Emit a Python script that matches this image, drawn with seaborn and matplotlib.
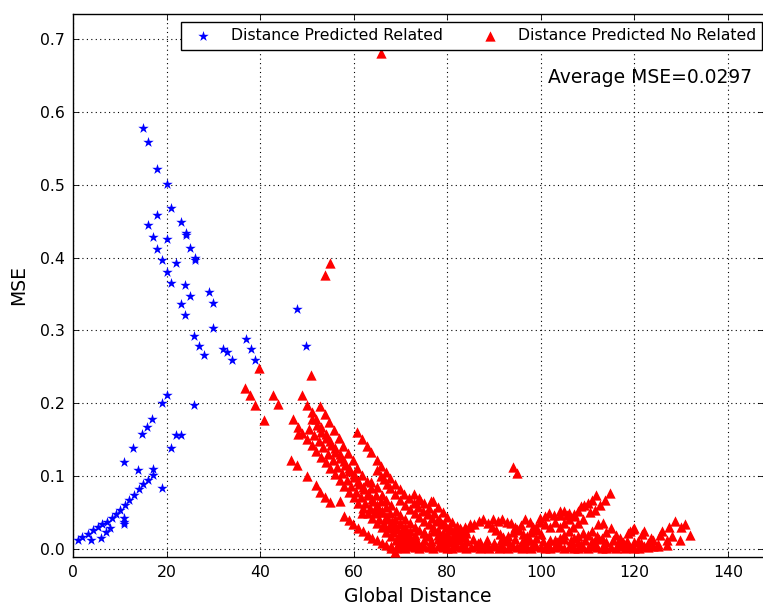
import numpy as np
import pandas as pd
import matplotlib
matplotlib.use("Agg")
import matplotlib.pyplot as plt
import seaborn as sns

# ---------------- data ----------------
blue_x = [1, 2, 3.3, 4.3, 5.4, 6.3, 7.3, 8.3, 9.2, 10, 11.1, 12, 13, 14.1, 15, 16.1, 17, 17,
          3.8, 5.9, 7.1, 7.9, 11, 11, 11,
          10.9, 12.9, 14, 14.8, 15.9, 16.8, 19, 20, 19, 20.9, 22, 23, 25.9,
          14.9, 16.1, 18, 20, 20.9, 18, 16.1, 23, 24.1, 24.1, 17, 20, 18, 25, 26.1, 26.1,
          19.1, 22, 20, 20.9, 23.9, 25, 29.1, 30, 23,
          23.9, 25.9, 27, 28, 30, 32, 33, 33.9, 37, 38, 39, 47.9, 49.9]
blue_y = [0.013, 0.017, 0.021, 0.026, 0.030, 0.034, 0.038, 0.043, 0.048, 0.054, 0.061, 0.067,
          0.075, 0.082, 0.089, 0.095, 0.102, 0.110,
          0.013, 0.015, 0.024, 0.029, 0.034, 0.038, 0.043,
          0.120, 0.139, 0.108, 0.158, 0.168, 0.179, 0.201, 0.212, 0.084, 0.139, 0.156, 0.156, 0.198,
          0.577, 0.558, 0.521, 0.501, 0.468, 0.459, 0.445, 0.449, 0.434, 0.431, 0.428, 0.425,
          0.412, 0.413, 0.400, 0.396, 0.396, 0.393, 0.380, 0.365, 0.362, 0.347, 0.353, 0.338, 0.336,
          0.321, 0.292, 0.279, 0.266, 0.303, 0.275, 0.271, 0.260, 0.288, 0.274, 0.260, 0.329, 0.279]

red_isolated = [(65.8, 0.680), (54.9, 0.392), (53.8, 0.376), (50.8, 0.239), (94.0, 0.113),
                (95.0, 0.105), (39.8, 0.248), (36.8, 0.221), (37.8, 0.211), (38.9, 0.198),
                (40.9, 0.177), (42.8, 0.211), (43.9, 0.199)]

red_band_a = [(49, 0.211), (50, 0.198), (51, 0.188), (52, 0.178), (53, 0.168), (54, 0.158),
              (55, 0.149), (56, 0.139), (57, 0.130), (58, 0.121), (59, 0.112), (60, 0.103),
              (61, 0.094), (62, 0.086), (63, 0.077), (64, 0.069), (65, 0.060), (66, 0.052),
              (67, 0.044), (68, 0.036), (69, 0.028), (70, 0.021), (71, 0.014), (72, 0.008), (73, 0.004)]
red_band_b = [(52.8, 0.197), (53.8, 0.186), (54.8, 0.175), (55.8, 0.164), (56.8, 0.153),
              (57.8, 0.142), (58.8, 0.132), (59.8, 0.122), (60.8, 0.112), (61.8, 0.102),
              (62.8, 0.093), (63.8, 0.084), (64.8, 0.075), (65.8, 0.066), (66.8, 0.058),
              (67.8, 0.050), (68.8, 0.042), (69.8, 0.034), (70.8, 0.027), (71.8, 0.020),
              (72.8, 0.014), (73.8, 0.009), (74.8, 0.005)]
red_band_c = [(47, 0.178), (48, 0.168), (49, 0.160), (50, 0.151), (51, 0.143), (52, 0.135),
              (53, 0.127), (54, 0.119), (55, 0.111), (56, 0.103), (57, 0.095), (58, 0.087),
              (59, 0.079), (60, 0.072), (61, 0.064), (62, 0.057), (63, 0.050), (64, 0.043),
              (65, 0.036), (66, 0.030), (67, 0.024), (68, 0.018), (69, 0.013), (70, 0.008), (71, 0.004)]
red_band_d = [(51.1, 0.179), (52.1, 0.170), (53.1, 0.161), (54.1, 0.152), (55.1, 0.143),
              (56.1, 0.134), (57.1, 0.125), (58.1, 0.116), (59.1, 0.107), (60.1, 0.099),
              (61.1, 0.090), (62.1, 0.082), (63.1, 0.074), (64.1, 0.066), (65.1, 0.058),
              (66.1, 0.051), (67.1, 0.044), (68.1, 0.037), (69.1, 0.030), (70.1, 0.024),
              (71.1, 0.018), (72.1, 0.012), (73.1, 0.007)]
red_band_e = [(48.1, 0.158), (50.5, 0.165), (51.5, 0.157), (52.5, 0.149), (53.5, 0.140),
              (54.5, 0.131), (55.5, 0.122), (56.5, 0.113), (57.5, 0.104), (58.5, 0.095),
              (59.5, 0.087), (60.5, 0.079), (61.5, 0.071), (62.5, 0.063), (63.5, 0.056),
              (64.5, 0.049), (65.5, 0.042), (66.5, 0.035), (67.5, 0.029), (68.5, 0.023),
              (69.5, 0.017), (70.5, 0.012)]
red_band_low = [(46.7, 0.123), (47.9, 0.115), (50, 0.100), (52, 0.088), (52.9, 0.078),
                (53.8, 0.072), (55, 0.065), (57, 0.066), (57.9, 0.046), (59, 0.040),
                (59.9, 0.034), (61, 0.029), (62, 0.025), (63, 0.020), (64, 0.016),
                (65, 0.012), (66, 0.009), (67, 0.006), (68, 0.004), (68.8, -0.004)]
red_band2_a = [(60.8, 0.161), (61.8, 0.151), (62.8, 0.142), (63.8, 0.133), (64.9, 0.123),
               (65.8, 0.114), (66.8, 0.106), (67.8, 0.098), (68.8, 0.090), (69.8, 0.083),
               (70.8, 0.076), (71.8, 0.070), (72.8, 0.064), (73.8, 0.058), (74.8, 0.053),
               (75.8, 0.048), (76.8, 0.043), (77.8, 0.039), (78.8, 0.035), (79.8, 0.031),
               (80.8, 0.027), (81.8, 0.024), (82.8, 0.020), (83.8, 0.017)]
red_band2_b = [(64.9, 0.108), (65.9, 0.100), (66.4, 0.096), (67.1, 0.089), (67.7, 0.084),
               (68.9, 0.076), (70, 0.067), (71, 0.061), (72, 0.055), (73, 0.049), (74, 0.044),
               (75, 0.039), (76, 0.034), (77, 0.030), (78, 0.026), (79, 0.022), (80, 0.018), (81, 0.015)]
red_band2_c = [(63.8, 0.092), (64.9, 0.086), (66, 0.075), (67, 0.068), (68, 0.060), (69, 0.053),
               (70, 0.047), (71, 0.041), (72, 0.036), (73, 0.031), (74, 0.027), (75, 0.023)]
red_tips = [(72.9, 0.076), (73.9, 0.070), (75, 0.063), (76.1, 0.056), (77.1, 0.050), (78.2, 0.041),
            (79.3, 0.036), (80.4, 0.031), (81.5, 0.026), (82.6, 0.021), (83.6, 0.017),
            (74.1, 0.068), (76.6, 0.066), (77, 0.066), (78, 0.058), (79, 0.051), (80, 0.044),
            (81, 0.038), (82, 0.032), (83, 0.027), (84, 0.022)]
red_mid = [(61.8, 0.049), (64.5, 0.055), (65.7, 0.051), (66.8, 0.042), (67.8, 0.033), (70, 0.036),
           (71, 0.030), (72, 0.025), (73, 0.020), (75, 0.022), (76, 0.018), (77, 0.025),
           (78, 0.020), (79, 0.016), (80, 0.021)]
red_floor = [(68, 0.002), (69, 0.001), (70, 0.003), (71, 0.002), (72, 0.004), (73, 0.003),
             (74, 0.002), (75, 0.005), (76, 0.003), (77, 0.002), (78, 0.004), (79, 0.003),
             (80, 0.001), (81, 0.002), (82, 0.004), (83, 0.003), (84, 0.002), (85, 0.003),
             (86, 0.005), (87, 0.002), (88, 0.003), (89, 0.001), (90, 0.004), (91, 0.002),
             (92, 0.003), (93, 0.002), (94, 0.004), (95, 0.003), (96, 0.001), (97, 0.003),
             (98, 0.002), (99, 0.004), (100, 0.003), (101, 0.002), (102, 0.001), (103, 0.003),
             (104, 0.004), (105, 0.002), (106, 0.003), (107, 0.002), (108, 0.001), (109, 0.003),
             (110, 0.002), (111, 0.004), (112, 0.003), (113, 0.002), (114, 0.001), (115, 0.003),
             (116, 0.002), (117, 0.004), (118, 0.002), (119, 0.003), (120, 0.001), (121, 0.002),
             (122, 0.004), (123, 0.003), (124, 0.005), (125, 0.007),
             (69.5, 0.006), (71.5, 0.007), (73.5, 0.006), (76.5, 0.007), (78.5, 0.006),
             (81.5, 0.007), (83.5, 0.006), (86.5, 0.008), (88.5, 0.006), (91.5, 0.007),
             (93.5, 0.006), (96.5, 0.008), (98.5, 0.006), (101.5, 0.007), (103.5, 0.006),
             (106.5, 0.007), (108.5, 0.006), (111.5, 0.008), (113.5, 0.006), (116.5, 0.007),
             (118.5, 0.006), (121.5, 0.005)]
red_row2 = [(70.5, 0.010), (72, 0.012), (73.5, 0.009), (75, 0.013), (76.5, 0.011), (78, 0.014),
            (79.5, 0.012), (81, 0.010), (82.5, 0.013), (84, 0.011), (85.5, 0.014), (87, 0.010),
            (88.5, 0.012), (90, 0.009), (91.5, 0.013), (93, 0.011), (94.5, 0.014), (96, 0.010),
            (97.5, 0.012), (99, 0.015), (100.5, 0.011), (102, 0.013), (103.5, 0.010), (105, 0.014),
            (106.5, 0.012), (108, 0.010), (109.5, 0.013), (111, 0.011), (112.5, 0.014), (114, 0.010),
            (115.5, 0.012), (117, 0.009), (118.5, 0.011), (120, 0.010), (121.5, 0.008)]
red_arches = [(79.5, 0.008), (80.5, 0.012), (81.5, 0.017), (82.7, 0.022), (83.8, 0.027),
              (84.8, 0.031), (85.8, 0.035), (86.8, 0.039), (87.7, 0.041), (82.7, 0.029),
              (83.8, 0.031), (84.8, 0.034), (88.8, 0.036), (89.6, 0.031), (90.4, 0.026),
              (91.2, 0.021), (92, 0.017), (92.8, 0.013), (89.8, 0.041), (90.8, 0.039),
              (91.8, 0.041), (92.8, 0.037), (93.7, 0.036), (94.5, 0.031), (95.3, 0.026),
              (96.1, 0.021), (96.9, 0.016), (97.7, 0.012), (93, 0.018), (94, 0.023),
              (95, 0.028), (95.7, 0.033), (96.6, 0.041), (97.6, 0.037), (98.4, 0.031),
              (99.2, 0.026), (100, 0.021), (97, 0.018), (98, 0.024), (98.9, 0.030),
              (99.8, 0.037), (99.8, 0.043), (100.8, 0.046), (101.8, 0.050), (102.8, 0.047),
              (104, 0.052), (105, 0.053), (106, 0.050), (107, 0.045), (101, 0.035),
              (102, 0.030), (103, 0.038), (104, 0.047), (105.5, 0.047)]
red_rise = [(104, 0.030), (105, 0.036), (106, 0.042), (107, 0.048), (108, 0.053), (108.6, 0.059),
            (109.3, 0.061), (110, 0.063), (111, 0.068), (111.9, 0.075),
            (103, 0.012), (104, 0.016), (105, 0.020), (106, 0.025), (106.9, 0.031), (108, 0.036),
            (109, 0.041), (110.5, 0.051), (111.5, 0.054), (112.6, 0.061), (113.7, 0.068), (114.7, 0.077)]
red_right = [(112.3, 0.034), (113.3, 0.036), (114, 0.024), (115.1, 0.029), (116, 0.020),
             (116.9, 0.015), (117.5, 0.010), (118.7, 0.022), (119, 0.025), (119.7, 0.028),
             (120, 0.029), (120.8, 0.011), (121.7, 0.021), (122.1, 0.025), (123, 0.008),
             (123.5, 0.015), (124, 0.012), (125, 0.004), (125.4, 0.020), (126, 0.025),
             (126.9, 0.006), (127, 0.012), (127.5, 0.030), (128, 0.018), (128.6, 0.039),
             (129.7, 0.013), (130, 0.030), (130.8, 0.035), (131.8, 0.020), (110, 0.020),
             (111, 0.025), (112, 0.018), (113, 0.015), (109, 0.022), (108, 0.018), (107, 0.016)]

red_groups = [red_isolated, red_band_a, red_band_b, red_band_c, red_band_d, red_band_e,
              red_band_low, red_band2_a, red_band2_b, red_band2_c, red_tips, red_mid,
              red_floor, red_row2, red_arches, red_rise, red_right]
red_pts = [p for g in red_groups for p in g]

label_blue = "Distance Predicted Related"
label_red = "Distance Predicted No Related"
annot = "Average MSE=0.0297"

df_blue = pd.DataFrame({"x": blue_x, "y": blue_y})
df_red = pd.DataFrame(red_pts, columns=["x", "y"])

# ---------------- style ----------------
plt.rcParams.update({
    "font.family": ["DejaVu Sans"],
    "xtick.direction": "in", "ytick.direction": "in",
    "xtick.top": True, "ytick.right": True,
    "xtick.major.size": 4, "ytick.major.size": 4,
    "xtick.major.width": 0.6, "ytick.major.width": 0.6,
    "axes.linewidth": 1.0,
})

fig = plt.figure(figsize=(7.63, 6.06), dpi=100, facecolor="white")
ax = fig.add_axes([73 / 763, 49.5 / 606, 690.5 / 763, 542.5 / 606])

sns.scatterplot(data=df_blue, x="x", y="y", marker="*", color="blue", s=62,
                linewidth=0, label=label_blue, ax=ax, zorder=3)
sns.scatterplot(data=df_red, x="x", y="y", marker="^", color="red", s=55,
                linewidth=0, label=label_red, ax=ax, zorder=3)

ax.set_xlim(0, 147.6)
ax.set_ylim(-0.01, 0.734)
ax.set_xticks([0, 20, 40, 60, 80, 100, 120, 140])
ax.set_yticks([0.0, 0.1, 0.2, 0.3, 0.4, 0.5, 0.6, 0.7])
ax.set_yticklabels(["0.0", "0.1", "0.2", "0.3", "0.4", "0.5", "0.6", "0.7"])
ax.tick_params(labelsize=11.3, pad=6)
ax.grid(True, linestyle=(0, (1, 3)), color="black", linewidth=0.8)
ax.set_axisbelow(True)
ax.set_xlabel("Global Distance", fontsize=13.5, labelpad=5)
ax.set_ylabel("MSE", fontsize=13.5, labelpad=8)

ax.text(548 / 763, 1 - 83 / 606, annot, transform=fig.transFigure,
        fontsize=13.5, ha="left", va="baseline")

leg = ax.legend(loc="upper left", bbox_to_anchor=(181 / 763, 1 - 22 / 606),
                bbox_transform=fig.transFigure, ncol=2, fontsize=11.25,
                frameon=True, fancybox=False, borderaxespad=0, borderpad=0.4,
                handlelength=2.0, handletextpad=0.8, columnspacing=2.0,
                scatterpoints=1)
leg.get_frame().set_edgecolor("black")
leg.get_frame().set_linewidth(1.0)
leg.get_frame().set_alpha(1)

fig.savefig("out.png", dpi=100, facecolor="white")
